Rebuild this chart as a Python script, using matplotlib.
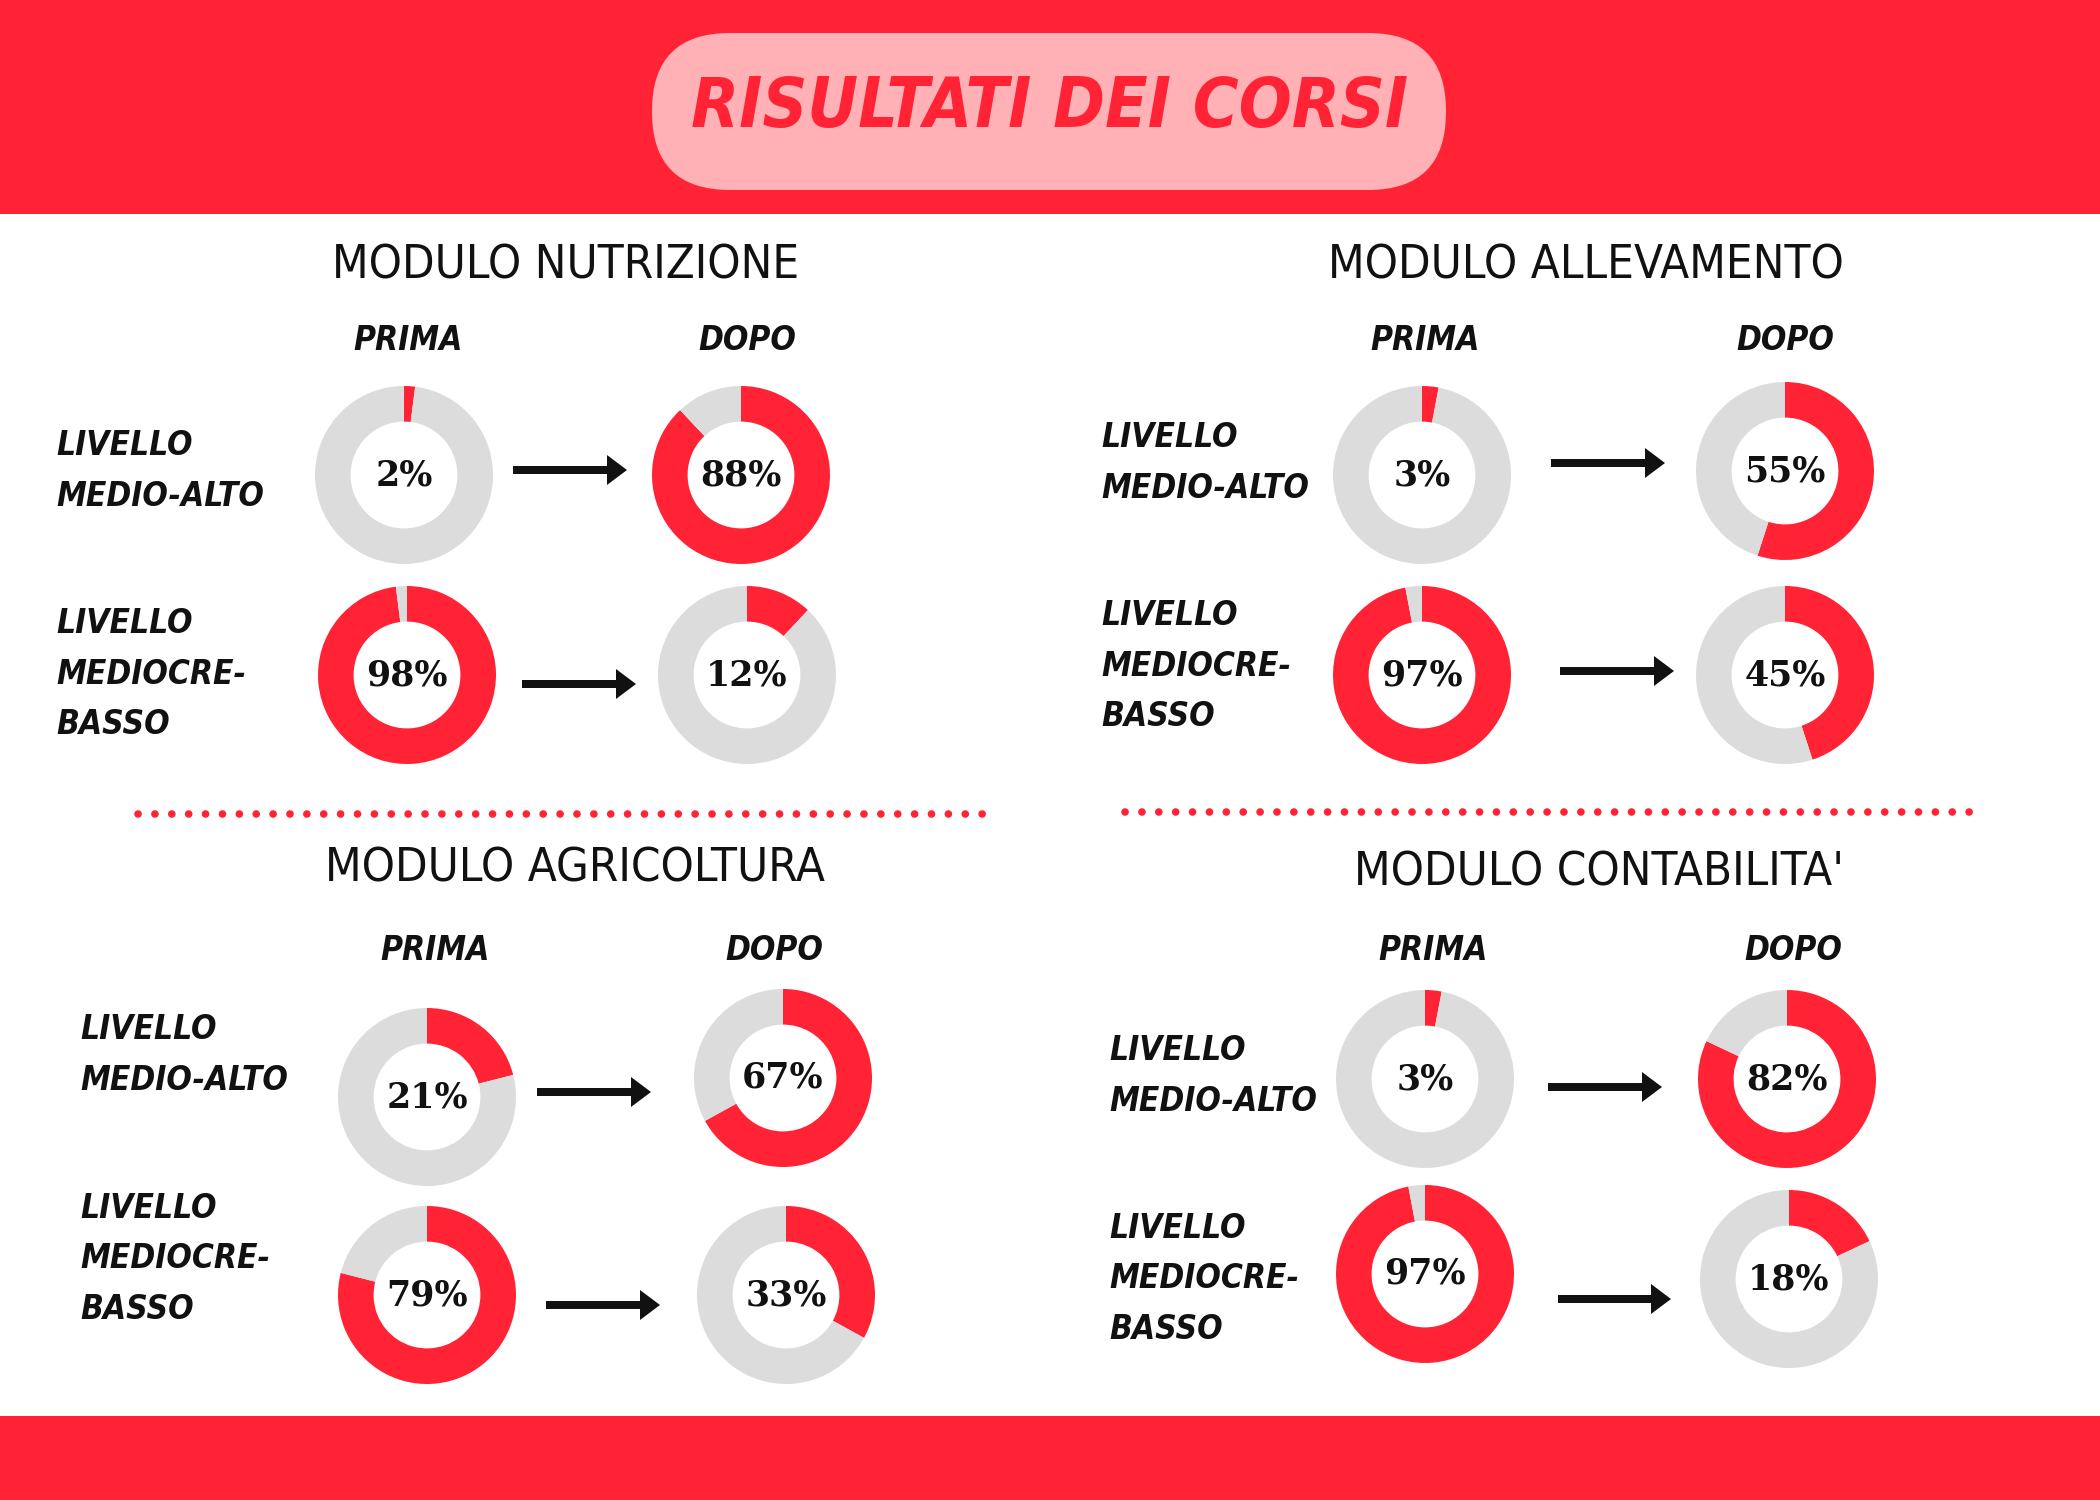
import matplotlib
matplotlib.use('Agg')
from matplotlib import pyplot as plt
from matplotlib import font_manager
from matplotlib.patches import FancyBboxPatch, Rectangle

# values (percent of students in the level)
modules = ['MODULO NUTRIZIONE', 'MODULO ALLEVAMENTO', 'MODULO AGRICOLTURA', "MODULO CONTABILITA'"]
phases = ['PRIMA', 'DOPO']
levels = ['LIVELLO\nMEDIO-ALTO', 'LIVELLO\nMEDIOCRE-\nBASSO']
prima_alto = [2, 3, 21, 3]
dopo_alto = [88, 55, 67, 82]
prima_basso = [98, 97, 79, 97]
dopo_basso = [12, 45, 33, 18]

RED = '#ff2335'
PINK = '#ffb1b6'
GREY = '#dcdcdc'
INK = '#111111'
W, H = 2100, 1500

installed = {f.name for f in font_manager.fontManager.ttflist}
def pick(*names):
    for n in names:
        if n in installed:
            return n
    return 'DejaVu Sans'
hand = pick('Liberation Sans Narrow', 'DejaVu Sans')
serif = pick('DejaVu Serif', 'Liberation Serif')

fig = plt.figure(figsize=(21, 15), dpi=100)
bg = fig.add_axes([0, 0, 1, 1])
bg.set_xlim(0, W)
bg.set_ylim(H, 0)
bg.axis('off')

# header / footer bands
bg.add_patch(Rectangle((0, 0), W, 214, color=RED, lw=0))
bg.add_patch(Rectangle((0, 1416), W, 84, color=RED, lw=0))
bg.add_patch(FancyBboxPatch((652, 33), 794, 157, boxstyle='round,pad=0,rounding_size=78',
                            color=PINK, lw=0))
bg.text(1050, 108, 'RISULTATI DEI CORSI', ha='center', va='center', color=RED,
        fontsize=50, fontweight='bold', fontstyle='italic', family=hand, fontstretch='condensed')

# dotted separators
bg.plot([138, 984], [814, 814], color=RED, lw=5.5, linestyle=(0, (0.01, 2.2)), dash_capstyle='round')
bg.plot([1125, 1971], [812, 812], color=RED, lw=5.5, linestyle=(0, (0.01, 2.2)), dash_capstyle='round')

# layout of the four panels (pixels)
panels = [
    dict(title=(566, 266), heads=(408, 747, 341), lab_x=56, lab_y=(471, 674),
         donuts=[(404, 475), (741, 475), (407, 675), (747, 675)],
         arrows=[(513, 627, 470), (522, 636, 684)]),
    dict(title=(1586, 266), heads=(1425, 1785, 341), lab_x=1101, lab_y=(463, 666),
         donuts=[(1422, 475), (1785, 471), (1422, 675), (1785, 675)],
         arrows=[(1551, 1665, 463), (1560, 1674, 671)]),
    dict(title=(575, 869), heads=(435, 774, 950), lab_x=80, lab_y=(1055, 1259),
         donuts=[(427, 1097), (783, 1078), (427, 1295), (786, 1295)],
         arrows=[(537, 651, 1092), (546, 660, 1305)]),
    dict(title=(1599, 873), heads=(1433, 1793, 950), lab_x=1109, lab_y=(1076, 1279),
         donuts=[(1425, 1079), (1787, 1079), (1425, 1274), (1789, 1279)],
         arrows=[(1548, 1662, 1087), (1558, 1671, 1299)]),
]
R = 89

def donut(cx, cy, pct):
    ax = fig.add_axes([(cx - R) / W, 1 - (cy + R) / H, 2 * R / W, 2 * R / H])
    ax.pie([pct, 100 - pct], colors=[RED, GREY], startangle=90, counterclock=False,
           radius=1, wedgeprops=dict(width=0.4, linewidth=0))
    ax.set_xlim(-1, 1)
    ax.set_ylim(-1, 1)
    ax.text(0, 0, f'{pct}%', ha='center', va='center', fontsize=25, fontweight='bold',
            family=serif, color=INK)

for i, p in enumerate(panels):
    bg.text(p['title'][0], p['title'][1], modules[i], ha='center', va='center', fontsize=34,
            family=hand, fontstretch='condensed', color=INK)
    bg.text(p['heads'][0], p['heads'][2], phases[0], ha='center', va='center', fontsize=24,
            fontweight='bold', fontstyle='italic', family=hand, fontstretch='condensed', color=INK)
    bg.text(p['heads'][1], p['heads'][2], phases[1], ha='center', va='center', fontsize=24,
            fontweight='bold', fontstyle='italic', family=hand, fontstretch='condensed', color=INK)
    for j, lab in enumerate(levels):
        bg.text(p['lab_x'], p['lab_y'][j], lab, ha='left', va='center', fontsize=24,
                fontweight='bold', fontstyle='italic', family=hand, fontstretch='condensed',
                linespacing=1.68, color=INK)
    vals = [prima_alto[i], dopo_alto[i], prima_basso[i], dopo_basso[i]]
    for (cx, cy), v in zip(p['donuts'], vals):
        donut(cx, cy, v)
    for x0, x1, y in p['arrows']:
        bg.arrow(x0, y, x1 - x0, 0, width=8, head_width=30, head_length=20,
                 length_includes_head=True, color=INK, lw=0)

fig.savefig('out.png', dpi=100, facecolor='white')
